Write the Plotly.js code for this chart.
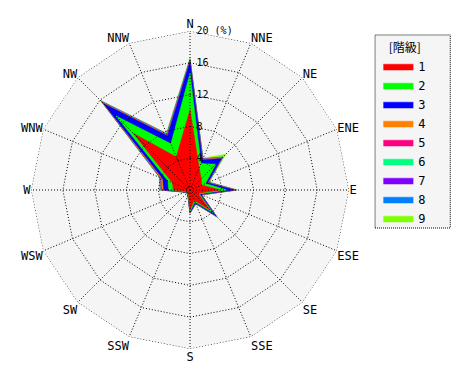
<!DOCTYPE html>
<html><head><meta charset="utf-8">
<script src="https://cdn.plot.ly/plotly-3.0.1.min.js"></script>
<style>html,body{margin:0;padding:0;background:#fff}#chart{width:470px;height:380px}</style>
</head><body><div id="chart"></div><script>
const directions = ['N','NNE','NE','ENE','E','ESE','SE','SSE','S','SSW','SW','WSW','W','WNW','NW','NNW'];
const classNames = ['1','2','3','4','5','6','7','8','9'];
const classColors = ['#ff0000','#00ff00','#0000ff','#ff8000','#ff0080','#00ff80','#8000ff','#0080ff','#80ff00'];
const class1 = [10.1, 3.0, 2.0, 1.6, 3.8, 1.1, 3.5, 1.4, 2.5, 0.5, 0.3, 0.4, 2.1, 2.4, 10.1, 4.5];
const class2 = [4.6, 0.6, 2.6, 0.5, 0.9, 0.2, 0.5, 0.2, 0.2, 0.1, 0.15, 0.15, 0.6, 0.6, 3.1, 1.8];
const class3 = [1.5, 0.5, 1.0, 0.3, 0.9, 0.2, 0.5, 0.2, 0.15, 0.05, 0.05, 0.1, 0.6, 0.7, 2.2, 1.1];
const class4 = [0.05, 0.05, 0.1, 0.05, 0.1, 0.03, 0.1, 0.03, 0.02, 0.02, 0.02, 0.02, 0.2, 0.2, 0.15, 0.08];
const class5 = [0.05, 0.03, 0.05, 0.03, 0.05, 0.02, 0.05, 0.02, 0.01, 0.01, 0.01, 0.01, 0.15, 0.1, 0.1, 0.05];
const class6 = [0.05, 0.02, 0.05, 0.03, 0.05, 0.02, 0.05, 0.02, 0.01, 0.01, 0.01, 0.01, 0.05, 0.05, 0.05, 0.05];
const class7 = [0.05, 0.02, 0.03, 0.02, 0.03, 0.01, 0.03, 0.01, 0.01, 0.01, 0.01, 0.01, 0.03, 0.03, 0.05, 0.03];
const class8 = [0.05, 0.03, 0.05, 0.02, 0.03, 0.01, 0.03, 0.01, 0.01, 0.01, 0.01, 0.01, 0.03, 0.05, 0.1, 0.05];
const class9 = [0.25, 0.1, 0.5, 0.1, 0.15, 0.05, 0.1, 0.05, 0.05, 0.05, 0.1, 0.05, 0.04, 0.07, 0.15, 0.1];
const ringValues = [4, 8, 12, 16, 20];
const ringLabels = ['\u00a04', '\u00a08', '\u00a012', '\u00a016', '\u00a020 (%)'];

const classes = [class1, class2, class3, class4, class5, class6, class7, class8, class9];
const cumulative = [];
let running = directions.map(() => 0);
classes.forEach(c => { running = running.map((v, i) => v + c[i]); cumulative.push(running.slice()); });

const closedTheta = directions.concat([directions[0]]);
const traces = [];
for (let k = classes.length - 1; k >= 0; k--) {
  traces.push({
    type: 'scatterpolar', mode: 'lines', name: classNames[k],
    r: cumulative[k].concat([cumulative[k][0]]), theta: closedTheta,
    fill: 'toself', fillcolor: classColors[k],
    line: {color: classColors[k], width: 0.5},
    hoverinfo: 'skip'
  });
}
// dotted grid drawn above the fills
ringValues.forEach(v => {
  traces.push({
    type: 'scatterpolar', mode: 'lines', showlegend: false, hoverinfo: 'skip',
    r: closedTheta.map(() => v), theta: closedTheta,
    line: {color: '#000', width: 1, dash: '1px,2px'}
  });
});
const spokeR = [], spokeT = [];
directions.forEach(d => { spokeR.push(0, ringValues[ringValues.length - 1], null); spokeT.push(d, d, null); });
traces.push({
  type: 'scatterpolar', mode: 'lines', showlegend: false, hoverinfo: 'skip',
  r: spokeR, theta: spokeT, connectgaps: false,
  line: {color: '#000', width: 1, dash: '1px,2px'}
});

const layout = {
  width: 470, height: 380,
  margin: {l: 0, r: 0, t: 0, b: 0},
  paper_bgcolor: '#fff',
  font: {family: 'DejaVu Sans Mono', size: 12, color: '#000'},
  showlegend: true,
  polar: {
    domain: {x: [0.066, 0.7426], y: [0.0816, 0.9184]},
    bgcolor: '#f5f5f5',
    gridshape: 'linear',
    angularaxis: {
      type: 'category', categoryarray: directions, rotation: 90, direction: 'clockwise',
      showgrid: false, showline: false, ticks: '', tickfont: {size: 12, family: 'DejaVu Sans Mono'}
    },
    radialaxis: {
      range: [0, 20], angle: 90, side: 'clockwise', showgrid: false, showline: false,
      ticks: '', tickvals: ringValues, ticktext: ringLabels, tickangle: 90,
      tickfont: {size: 10, family: 'DejaVu Sans Mono'}, layer: 'above traces'
    }
  },
  legend: {
    x: 0.805, y: 0.905, xanchor: 'left', yanchor: 'top',
    traceorder: 'reversed', bgcolor: 'rgba(0,0,0,0)', borderwidth: 0,
    font: {size: 12, family: 'DejaVu Sans Mono'},
    title: {text: '[階級]', side: 'top center', font: {size: 12, family: 'Noto Sans CJK JP'}}
  },
  shapes: [{
    type: 'rect', xref: 'paper', yref: 'paper', layer: 'below',
    x0: 0.798, x1: 0.958, y0: 0.4, y1: 0.908,
    fillcolor: '#f5f5f5', line: {color: '#000', width: 1, dash: '1px,1px'}
  }]
};
Plotly.newPlot('chart', traces, layout, {displayModeBar: false, staticPlot: true});
</script></body></html>
